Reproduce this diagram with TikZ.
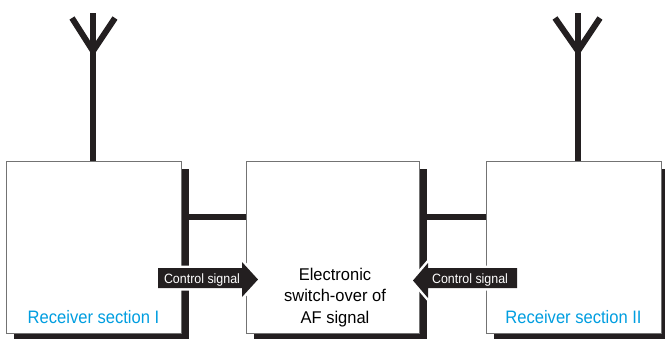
\documentclass[tikz,border=0pt]{standalone}
\usepackage{fontspec}
\setmainfont{Liberation Sans}[FakeStretch=0.92]
\newfontfamily\midfont{Liberation Sans}[FakeStretch=0.97]
\usetikzlibrary{shadows,calc}
\definecolor{ink}{HTML}{231F20}
\definecolor{rxblue}{HTML}{009EE0}
\tikzset{
  box/.style={draw=black!55, line width=1pt, fill=white, inner sep=0pt,
    minimum width=175pt, minimum height=172pt, anchor=north west,
    drop shadow={shadow xshift=7.5pt, shadow yshift=-7pt, fill=ink, opacity=1}},
  antenna/.style={draw=ink, line width=6pt, line cap=butt},
  conn/.style={draw=ink, line width=6pt},
  rxlabel/.style={text=rxblue, font=\fontsize{18}{21}\selectfont, inner sep=0pt, anchor=base},
  midlabel/.style={text=black, font=\midfont\fontsize{17}{21.5}\selectfont, inner sep=0pt, align=center, anchor=north},
  arrowshape/.style={fill=ink, preaction={draw=white, line width=5pt, line join=miter}},
  arrowtext/.style={text=white, font=\fontsize{13.5}{15}\selectfont, inner sep=0pt, anchor=base}
}
\begin{document}
\begin{tikzpicture}[x=1pt, y=-1pt]
\useasboundingbox (0,0) rectangle (665,338);
% boxes
\node[box] (L) at (6,161) {};
\node[box, minimum width=173pt] (M) at (246,161) {};
\node[box] (R) at (486,161) {};
% connectors
\coordinate (hline) at (0,217);
\draw[conn] ($(L.east |- hline)+(7,0)$) -- (M.west |- hline);
\draw[conn] ($(M.east |- hline)+(7,0)$) -- (R.west |- hline);
% antennas
\coordinate (a1top) at (93,13);
\coordinate (a1j) at (93,51);
\coordinate (a1l) at (72,18);
\coordinate (a1r) at (115,18);
\draw[antenna] (a1top) -- (a1top |- L.north);
\draw[antenna] (a1l) -- (a1j) -- (a1r);
\coordinate (a2top) at (578,13);
\coordinate (a2j) at (578,51);
\coordinate (a2l) at (555,18);
\coordinate (a2r) at (600,18);
\draw[antenna] (a2top) -- (a2top |- R.north);
\draw[antenna] (a2l) -- (a2j) -- (a2r);
% labels
\node[rxlabel] (Lt) at (93.5,323) {Receiver section I};
\node[rxlabel] (Rt) at (573.5,323) {Receiver section II};
\node[midlabel] (Mt) at (335,267.5) {Electronic\\switch-over of\\AF signal};
% control signal arrows
\path[arrowshape] (158,268) -- (242,268) -- (242,262) -- (258,279.5) -- (242,297) -- (242,288) -- (158,288) -- cycle;
\node[arrowtext] (c1) at (202,283) {Control signal};
\path[arrowshape] (517,268) -- (428,268) -- (428,263) -- (413,280.5) -- (428,298) -- (428,288) -- (517,288) -- cycle;
\node[arrowtext] (c2) at (470,283) {Control signal};
\end{tikzpicture}
\end{document}
